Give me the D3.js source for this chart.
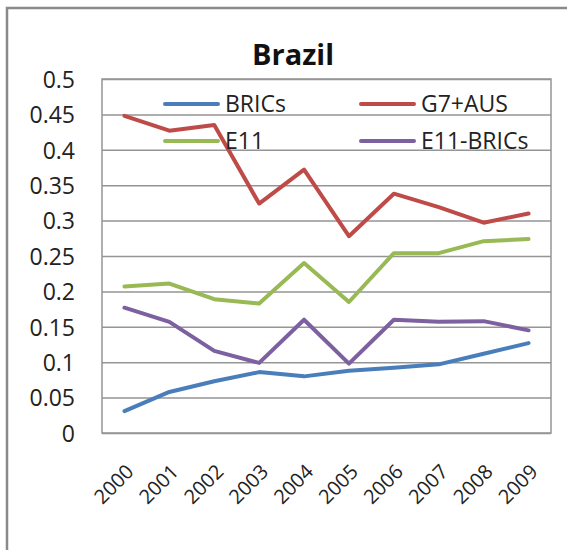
<!DOCTYPE html>
<html>
<head>
<meta charset="utf-8">
<script src="https://cdn.jsdelivr.net/npm/d3@7"></script>
<style>
  body { margin: 0; background: #fff; }
  svg { display: block; font-family: "Open Sans", sans-serif; }
</style>
</head>
<body>
<svg id="chart" width="567" height="550"></svg>
<script>
// Données
const years = ['2000', '2001', '2002', '2003', '2004', '2005', '2006', '2007', '2008', '2009'];
const yTicks = [0, 0.05, 0.1, 0.15, 0.2, 0.25, 0.3, 0.35, 0.4, 0.45, 0.5];
const seriesNames = ['BRICs', 'G7+AUS', 'E11', 'E11-BRICs'];
const bricsValues = [0.031, 0.058, 0.073, 0.086, 0.080, 0.088, 0.092, 0.097, 0.112, 0.127];
const g7Values = [0.448, 0.427, 0.435, 0.324, 0.372, 0.278, 0.338, 0.319, 0.297, 0.310];
const e11Values = [0.207, 0.211, 0.189, 0.183, 0.240, 0.185, 0.254, 0.254, 0.271, 0.274];
const e11BricsValues = [0.177, 0.157, 0.116, 0.099, 0.160, 0.098, 0.160, 0.157, 0.158, 0.145];
const colors = ['#4a7ebb', '#be4b48', '#98b954', '#7d60a0'];

const series = [bricsValues, g7Values, e11Values, e11BricsValues];

const svg = d3.select('#chart');

const plot = { left: 102, right: 551, top: 79, bottom: 433 };

// Bordure du graphique
svg.append('path')
  .attr('d', 'M7,550 V8 H567')
  .attr('fill', 'none')
  .attr('stroke', '#8a8a8a')
  .attr('stroke-width', 2.5);

const xScale = d3.scalePoint()
  .domain(years)
  .range([plot.left, plot.right])
  .padding(0.5);

const yScale = d3.scaleLinear()
  .domain([0, 0.5])
  .range([plot.bottom, plot.top]);

// Quadrillage
svg.append('g')
  .attr('transform', `translate(${plot.left},0)`)
  .call(d3.axisLeft(yScale).tickValues(yTicks).tickSize(-(plot.right - plot.left)).tickFormat(''))
  .call((g) => g.select('.domain').remove())
  .call((g) => g.selectAll('line').attr('stroke', '#959595').attr('stroke-width', 1.5));

svg.append('rect')
  .attr('x', plot.left)
  .attr('y', plot.top)
  .attr('width', plot.right - plot.left)
  .attr('height', plot.bottom - plot.top)
  .attr('fill', 'none')
  .attr('stroke', '#959595')
  .attr('stroke-width', 1.5);

// Axe Y
svg.append('g')
  .attr('transform', `translate(${plot.left},0)`)
  .call(d3.axisLeft(yScale).tickValues(yTicks).tickSize(0).tickPadding(27).tickFormat((d) => String(d)))
  .call((g) => g.select('.domain').remove())
  .call((g) => g.selectAll('text')
    .attr('font-family', '"Open Sans", sans-serif')
    .attr('font-size', '23px')
    .attr('fill', '#222')
    .attr('dy', '0.36em'));

// Axe X
svg.append('g')
  .attr('transform', `translate(0,${plot.bottom})`)
  .call(d3.axisBottom(xScale).tickSize(0))
  .call((g) => g.select('.domain').remove())
  .call((g) => g.selectAll('text')
    .attr('font-family', '"Open Sans", sans-serif')
    .attr('font-size', '20px')
    .attr('fill', '#222')
    .attr('text-anchor', 'end')
    .attr('dy', 0)
    .attr('y', 0)
    .attr('transform', 'translate(10,40) rotate(-45)'));

// Lignes
const line = d3.line()
  .x((d, i) => xScale(years[i]))
  .y((d) => yScale(d));

svg.append('g')
  .selectAll('path')
  .data(series)
  .enter()
  .append('path')
  .attr('d', (d) => line(d))
  .attr('fill', 'none')
  .attr('stroke', (d, i) => colors[i])
  .attr('stroke-width', 4)
  .attr('stroke-linejoin', 'round')
  .attr('stroke-linecap', 'round');

// Légende
const legendPos = [[165, 104], [361, 104], [165, 141], [361, 141]];
const legend = svg.append('g')
  .selectAll('g')
  .data(seriesNames)
  .enter()
  .append('g')
  .attr('transform', (d, i) => `translate(${legendPos[i][0]},${legendPos[i][1]})`);

legend.append('line')
  .attr('x1', 0)
  .attr('x2', 53)
  .attr('stroke', (d, i) => colors[i])
  .attr('stroke-width', 4)
  .attr('stroke-linecap', 'round');

legend.append('text')
  .attr('x', 60)
  .attr('dy', '0.36em')
  .attr('font-size', '23px')
  .attr('fill', '#222')
  .text((d) => d);

// Titre
svg.append('text')
  .attr('x', 293)
  .attr('y', 65)
  .attr('text-anchor', 'middle')
  .attr('font-size', '29px')
  .attr('font-weight', 'bold')
  .attr('fill', '#111')
  .text('Brazil');
</script>
</body>
</html>
